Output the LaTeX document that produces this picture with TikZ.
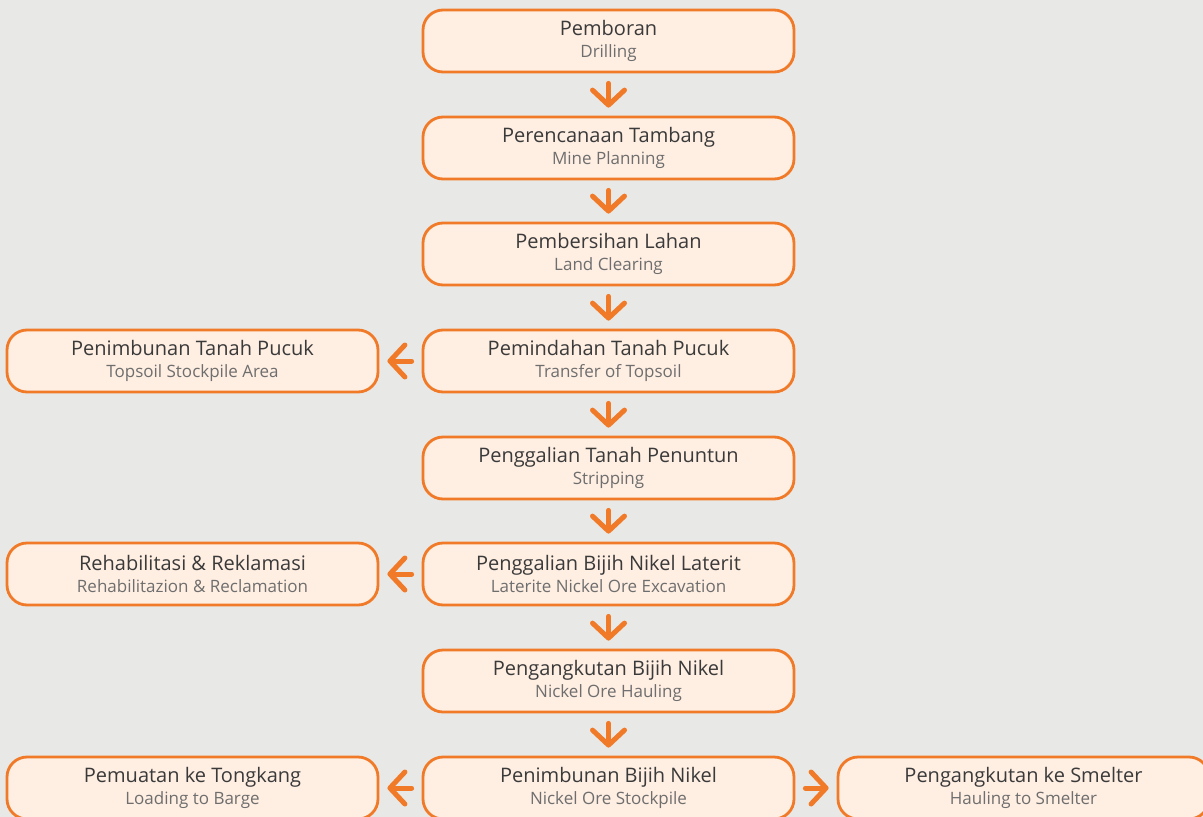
\documentclass[tikz,border=0pt]{standalone}
\usepackage{fontspec}
\setmainfont{Open Sans}
\usetikzlibrary{arrows.meta, positioning}
\definecolor{boxorange}{RGB}{240,122,40}
\definecolor{boxfill}{RGB}{255,238,226}
\definecolor{bgcolor}{RGB}{232,232,230}
\definecolor{titlecolor}{RGB}{58,58,58}
\definecolor{subcolor}{RGB}{110,110,110}
\newcommand{\boxtitle}[1]{{\color{titlecolor}#1}}
\newcommand{\boxsub}[1]{{\fontsize{17}{21.5}\selectfont\color{subcolor}#1}}

\begin{document}
\begin{tikzpicture}[
    x=1pt, y=-1pt,
    block/.style={draw=boxorange, fill=boxfill, line width=2.8pt, rounded corners=20pt, minimum width=371pt, minimum height=62pt, align=center, inner sep=0pt, font=\fontsize{20}{21.5}\selectfont},
    flow/.style={boxorange, line width=5pt, line cap=round, -{Straight Barb[length=15pt, width=32pt, round]}, shorten <=10pt, shorten >=8pt}
]
  \useasboundingbox (0,0) rectangle (1203,817);
  \clip (0,0) rectangle (1203,817);
  \fill[bgcolor] (0,0) rectangle (1203,817);

  % Main sequence
  \node[block] (drill) at (608.5, 41) {\boxtitle{Pemboran}\\\boxsub{Drilling}};
  \node[block] (plan) at (608.5, 148) {\boxtitle{Perencanaan Tambang}\\\boxsub{Mine Planning}};
  \node[block] (clear) at (608.5, 254) {\boxtitle{Pembersihan Lahan}\\\boxsub{Land Clearing}};
  \node[block] (topsoil) at (608.5, 361) {\boxtitle{Pemindahan Tanah Pucuk}\\\boxsub{Transfer of Topsoil}};
  \node[block] (strip) at (608.5, 468) {\boxtitle{Penggalian Tanah Penuntun}\\\boxsub{Stripping}};
  \node[block] (excav) at (608.5, 574) {\boxtitle{Penggalian Bijih Nikel Laterit}\\\boxsub{Laterite Nickel Ore Excavation}};
  \node[block] (haul) at (608.5, 681) {\boxtitle{Pengangkutan Bijih Nikel}\\\boxsub{Nickel Ore Hauling}};
  \node[block] (stock) at (608.5, 788) {\boxtitle{Penimbunan Bijih Nikel}\\\boxsub{Nickel Ore Stockpile}};

  \draw[flow] (drill) -- (plan);
  \draw[flow] (plan) -- (clear);
  \draw[flow] (clear) -- (topsoil);
  \draw[flow] (topsoil) -- (strip);
  \draw[flow] (strip) -- (excav);
  \draw[flow] (excav) -- (haul);
  \draw[flow] (haul) -- (stock);

  % Side branches
  \node[block] (soilpile) at (192.5, 361) {\boxtitle{Penimbunan Tanah Pucuk}\\\boxsub{Topsoil Stockpile Area}};
  \node[block] (rehab) at (192.5, 574) {\boxtitle{Rehabilitasi \& Reklamasi}\\\boxsub{Rehabilitazion \& Reclamation}};
  \node[block] (barge) at (192.5, 788) {\boxtitle{Pemuatan ke Tongkang}\\\boxsub{Loading to Barge}};
  \node[block] (smelter) at (1023.5, 788) {\boxtitle{Pengangkutan ke Smelter}\\\boxsub{Hauling to Smelter}};

  \draw[flow] (topsoil) -- (soilpile);
  \draw[flow] (excav) -- (rehab);
  \draw[flow] (stock) -- (barge);
  \draw[flow] (stock) -- (smelter);
\end{tikzpicture}
\end{document}
